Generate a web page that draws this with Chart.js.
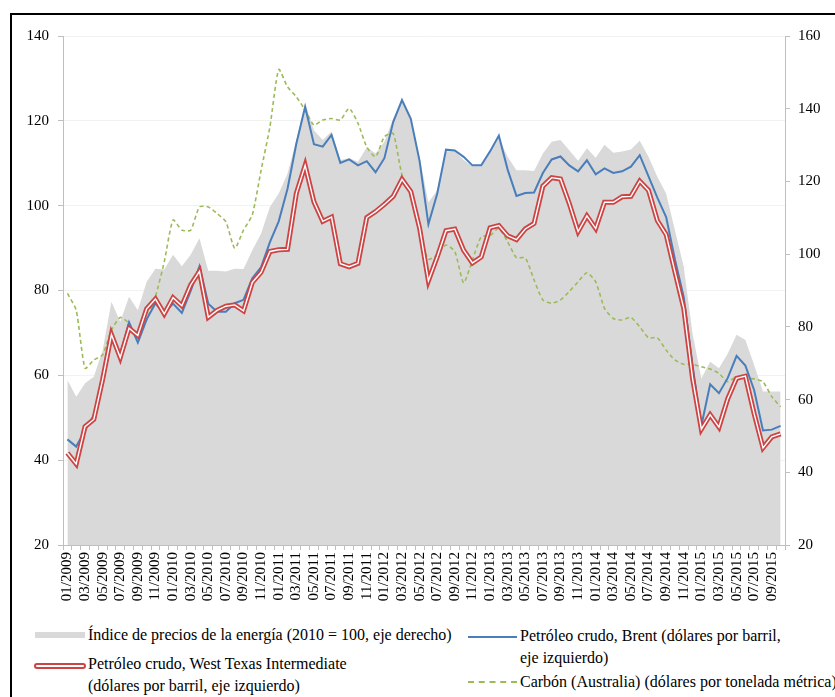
<!DOCTYPE html>
<html>
<head>
<meta charset="utf-8">
<script src="https://cdn.jsdelivr.net/npm/chart.js@4/dist/chart.umd.min.js"></script>
<style>
  body { margin: 0; background: #fff; width: 835px; height: 697px; overflow: hidden; position: relative; }
  #frame { position: absolute; left: 10px; top: 13px; width: 900px; height: 800px; border-left: 2px solid #000; border-top: 2px solid #000; }
  #c { position: absolute; left: 0; top: 0; }
  .lg { position: absolute; font: 16px "Liberation Serif", "Times New Roman", serif; color: #000; line-height: 22px; white-space: nowrap; }
  .sw { position: absolute; }
</style>
</head>
<body>
<div id="frame"></div>
<canvas id="c" width="835" height="620"></canvas>

<div class="sw" style="left:35px;top:632px;width:50px;height:6px;background:#d9d9d9"></div>
<div class="lg" style="left:88px;top:624px">Índice de precios de la energía (2010 = 100, eje derecho)</div>

<div class="sw" style="left:34px;top:663px;width:48px;height:2px;border:2px solid #cc4444;border-radius:3px;background:#fff"></div>
<div class="lg" style="left:88px;top:653px">Petróleo crudo, West Texas Intermediate<br>(dólares por barril, eje izquierdo)</div>

<div class="sw" style="left:468px;top:636px;width:49px;height:2px;background:#4a7ebb"></div>
<div class="lg" style="left:520px;top:625px">Petróleo crudo, Brent (dólares por barril,<br>eje izquierdo)</div>

<div class="sw" style="left:468px;top:681px;width:49px;height:0;border-top:2px dashed #9bbb59"></div>
<div class="lg" style="left:520px;top:671px">Carbón (Australia) (dólares por tonelada métrica)</div>

<script>
// months 01/2009 - 10/2015
let months = [
  "01/2009","02/2009","03/2009","04/2009","05/2009","06/2009","07/2009","08/2009","09/2009","10/2009","11/2009","12/2009",
  "01/2010","02/2010","03/2010","04/2010","05/2010","06/2010","07/2010","08/2010","09/2010","10/2010","11/2010","12/2010",
  "01/2011","02/2011","03/2011","04/2011","05/2011","06/2011","07/2011","08/2011","09/2011","10/2011","11/2011","12/2011",
  "01/2012","02/2012","03/2012","04/2012","05/2012","06/2012","07/2012","08/2012","09/2012","10/2012","11/2012","12/2012",
  "01/2013","02/2013","03/2013","04/2013","05/2013","06/2013","07/2013","08/2013","09/2013","10/2013","11/2013","12/2013",
  "01/2014","02/2014","03/2014","04/2014","05/2014","06/2014","07/2014","08/2014","09/2014","10/2014","11/2014","12/2014",
  "01/2015","02/2015","03/2015","04/2015","05/2015","06/2015","07/2015","08/2015","09/2015","10/2015"
];

// energy price index (2010 = 100), right axis
let energyIndex = [
  65.4, 60.8, 64.5, 66.3, 73.6, 86.9, 81.4, 88.3, 84.6, 92.4, 96.0, 95.8,
  99.8, 96.7, 99.8, 104.4, 95.4, 95.4, 95.2, 96.0, 95.9, 101.1, 105.7, 113.0,
  116.7, 122.2, 131.4, 141.5, 134.1, 131.4, 133.7, 125.9, 126.4, 125.4, 129.4, 127.7,
  130.9, 137.3, 141.9, 137.3, 126.8, 114.3, 117.6, 128.2, 128.4, 125.9, 124.2, 124.2,
  127.7, 131.9, 126.8, 123.1, 123.1, 122.9, 127.7, 130.9, 131.4, 128.6, 125.7, 129.1,
  126.5, 130.1, 127.9, 128.2, 128.8, 131.2, 126.8, 121.3, 116.7, 106.6, 96.5, 78.2,
  65.8, 70.4, 68.6, 72.7, 77.8, 76.4, 69.5, 62.2, 62.2, 62.2
];

// WTI, left axis
let wti = [
  41.7, 39.1, 47.9, 49.6, 59.0, 69.6, 64.2, 71.1, 69.4, 75.7, 78.0, 74.5,
  78.3, 76.4, 81.3, 84.5, 73.7, 75.3, 76.3, 76.6, 75.2, 81.9, 84.3, 89.2,
  89.6, 89.7, 102.9, 109.5, 100.9, 96.3, 97.3, 86.3, 85.6, 86.4, 97.2, 98.6,
  100.3, 102.2, 106.2, 103.3, 94.7, 82.3, 87.9, 94.1, 94.5, 89.5, 86.5, 87.9,
  94.8, 95.3, 92.9, 92.0, 94.5, 95.8, 104.6, 106.6, 106.3, 100.5, 93.9, 97.6,
  94.6, 100.8, 100.8, 102.1, 102.2, 105.8, 103.6, 96.5, 93.2, 84.4, 75.8, 59.3,
  47.3, 50.7, 47.8, 54.5, 59.3, 59.8, 50.9, 42.9, 45.5, 46.2
];

// Brent, left axis
let brent = [
  44.9, 43.2, 47.0, 50.6, 57.9, 68.6, 64.9, 72.5, 67.7, 73.2, 77.0, 74.7,
  76.9, 74.7, 79.9, 85.7, 76.9, 75.0, 75.0, 77.0, 77.8, 82.9, 85.5, 91.4,
  96.3, 104.0, 114.6, 123.3, 114.5, 113.9, 116.7, 110.1, 110.9, 109.5, 110.5, 107.9,
  111.2, 119.7, 124.9, 120.5, 110.5, 95.6, 102.8, 113.2, 113.0, 111.5, 109.5, 109.5,
  112.8, 116.5, 108.5, 102.3, 103.0, 103.1, 107.7, 110.9, 111.6, 109.5, 108.1, 110.7,
  107.4, 108.8, 107.7, 108.1, 109.2, 111.9, 106.9, 101.9, 97.3, 87.3, 78.4, 62.3,
  48.1, 57.9, 55.8, 59.4, 64.6, 62.3, 56.5, 47.0, 47.2, 48.1
];

// coal (Australia), right axis
let coal = [
  89.2, 84.6, 68.6, 70.9, 72.3, 79.1, 82.6, 81.0, 76.8, 81.9, 88.3, 97.9,
  109.4, 106.6, 106.6, 113.0, 113.0, 111.2, 108.9, 101.6, 106.6, 110.8, 123.1, 135.0,
  150.8, 146.0, 143.3, 139.6, 135.5, 136.9, 137.3, 136.9, 140.1, 136.0, 129.5, 126.8,
  132.3, 133.2, 121.8, 116.7, 105.7, 98.6, 99.8, 102.5, 100.7, 92.1, 98.4, 104.8,
  105.1, 107.1, 103.4, 99.0, 99.0, 92.9, 87.4, 86.5, 87.4, 89.7, 92.4, 94.9,
  92.4, 85.1, 82.3, 81.9, 82.6, 80.0, 77.0, 77.0, 73.6, 70.9, 69.7, 69.7,
  69.0, 68.4, 67.2, 64.9, 66.3, 65.8, 65.7, 64.9, 60.8, 58.0
];

let leftTicks = [20, 140, 20];   // min, max, step
let rightTicks = [20, 160, 20];

let serif = "'Liberation Serif', 'Times New Roman', serif";
let axisGray = "#bfbfbf";

let ctx = document.getElementById("c").getContext("2d");
new Chart(ctx, {
  type: "line",
  data: {
    labels: months,
    datasets: [
      { label: "wti-inner", data: wti, yAxisID: "y", borderColor: "#ffffff", borderWidth: 1.4, pointRadius: 0, tension: 0, fill: false },
      { label: "Petróleo crudo, West Texas Intermediate", data: wti, yAxisID: "y", borderColor: "#cc4444", borderWidth: 5, pointRadius: 0, tension: 0, fill: false },
      { label: "Petróleo crudo, Brent", data: brent, yAxisID: "y", borderColor: "#4a7ebb", borderWidth: 2, pointRadius: 0, tension: 0, fill: false },
      { label: "Carbón (Australia)", data: coal, yAxisID: "y1", borderColor: "#9bbb59", borderWidth: 1.6, borderDash: [4, 3], pointRadius: 0, tension: 0.2, fill: false },
      { label: "Índice de precios de la energía", data: energyIndex, yAxisID: "y1", borderWidth: 0, borderColor: "rgba(0,0,0,0)", backgroundColor: "#d9d9d9", pointRadius: 0, tension: 0, fill: "start" }
    ]
  },
  options: {
    responsive: false,
    animation: false,
    layout: { padding: { top: 36, bottom: 5, left: 0, right: 0 } },
    plugins: { legend: { display: false }, tooltip: { enabled: false } },
    scales: {
      x: {
        offset: true,
        afterFit: s => { s.height = 70; },
        border: { color: axisGray },
        grid: { offset: true, drawOnChartArea: false, tickLength: 5, tickColor: axisGray },
        ticks: {
          autoSkip: false, minRotation: 90, maxRotation: 90, padding: 2,
          color: "#000", font: { family: serif, size: 15 },
          callback: function (v, i) { return i % 2 === 0 ? months[i] : ""; }
        }
      },
      y: {
        position: "left",
        min: leftTicks[0], max: leftTicks[1],
        afterFit: s => { s.width = 63; },
        border: { color: axisGray },
        grid: { color: "#f2f2f2", tickColor: axisGray, tickLength: 5 },
        ticks: { stepSize: leftTicks[2], padding: 9, color: "#000", font: { family: serif, size: 15 } }
      },
      y1: {
        position: "right",
        min: rightTicks[0], max: rightTicks[1],
        afterFit: s => { s.width = 50; },
        border: { color: axisGray },
        grid: { drawOnChartArea: false, tickColor: axisGray, tickLength: 5 },
        ticks: { stepSize: rightTicks[2], padding: 8, color: "#000", font: { family: serif, size: 15 } }
      }
    }
  }
});
</script>
</body>
</html>
